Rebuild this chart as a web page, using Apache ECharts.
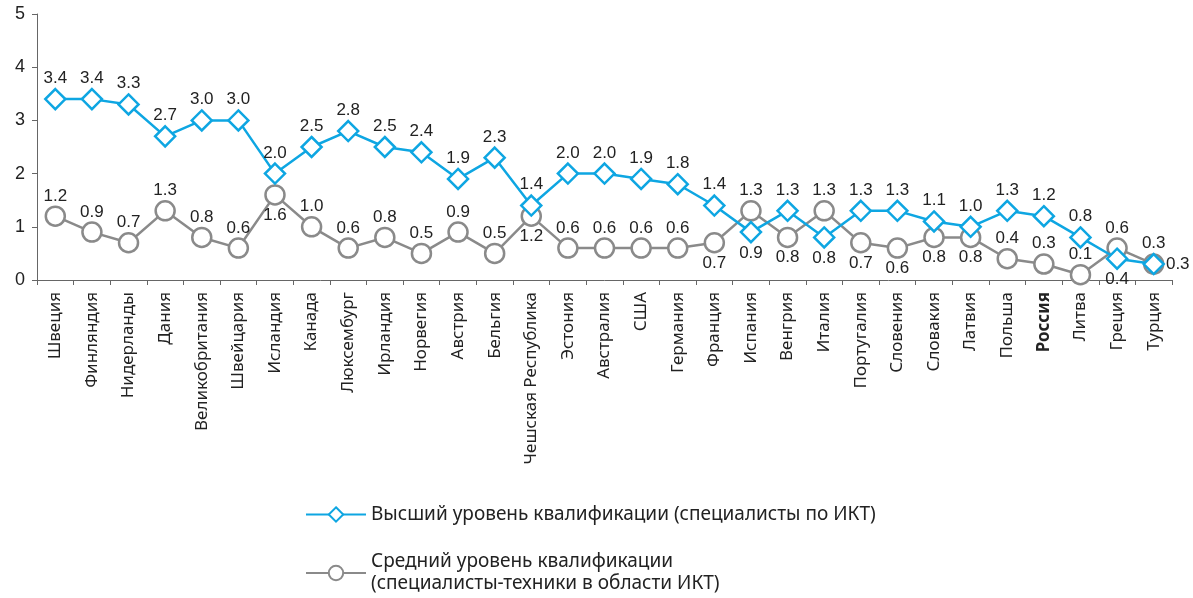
<!DOCTYPE html>
<html><head><meta charset="utf-8">
<script src="https://cdn.jsdelivr.net/npm/echarts@6/dist/echarts.min.js"></script>
<style>html,body{margin:0;padding:0;background:#fff}#c{width:1193px;height:598px}</style>
</head><body><div id="c"></div>
<script>
const categories = ['Швеция','Финляндия','Нидерланды','Дания','Великобритания','Швейцария','Исландия','Канада','Люксембург','Ирландия','Норвегия','Австрия','Бельгия','Чешская Республика','Эстония','Австралия','США','Германия','Франция','Испания','Венгрия','Италия','Португалия','Словения','Словакия','Латвия','Польша','Россия','Литва','Греция','Турция'];
const highValues = [3.4,3.4,3.3,2.7,3.0,3.0,2.0,2.5,2.8,2.5,2.4,1.9,2.3,1.4,2.0,2.0,1.9,1.8,1.4,0.9,1.3,0.8,1.3,1.3,1.1,1.0,1.3,1.2,0.8,0.4,0.3];
const midValues = [1.2,0.9,0.7,1.3,0.8,0.6,1.6,1.0,0.6,0.8,0.5,0.9,0.5,1.2,0.6,0.6,0.6,0.6,0.7,1.3,0.8,1.3,0.7,0.6,0.8,0.8,0.4,0.3,0.1,0.6,0.3];
const yTicks = [0,1,2,3,4,5];
const highName = 'Высший уровень квалификации (специалисты по ИКТ)';
const midName = 'Средний уровень квалификации\n(специалисты-техники в области ИКТ)';

// label placement (style only)
const highPos = categories.map((c,i)=> ({'Испания':'bottom','Италия':'bottom','Греция':'bottom','Турция':'right'})[c] || 'top');
const midBelow = ['Исландия','Чешская Республика','Франция','Венгрия','Португалия','Словения','Словакия','Латвия'];
const midPos = categories.map(c => midBelow.includes(c) ? 'bottom' : 'top');

const numFont = '"Liberation Sans Narrow", "Liberation Sans", Arial, sans-serif';
const BLUE = '#0ea6e2', GREY = '#8a8a8a';

const chart = echarts.init(document.getElementById('c'));
chart.setOption({
  animation: false,
  grid: {left: 37, right: 21, top: 14, bottom: 318, containLabel: false},
  xAxis: {
    type: 'category', data: categories, boundaryGap: true,
    axisLine: {lineStyle: {color: '#666', width: 1}},
    axisTick: {show: true, length: 5, lineStyle: {color: '#666'}},
    axisLabel: {
      rotate: 90, interval: 0, margin: 12, fontSize: 17, color: '#222',
      fontFamily: '"Noto Sans", "Open Sans", sans-serif',
      formatter: v => v === 'Россия' ? '{b|' + v + '}' : v,
      rich: {b: {fontWeight: 'bold', fontSize: 17, color: '#222', fontFamily: '"Noto Sans", sans-serif'}}
    }
  },
  yAxis: {
    type: 'value', min: 0, max: 5, interval: 1,
    splitLine: {show: false},
    axisLine: {show: true, lineStyle: {color: '#666', width: 1}},
    axisTick: {show: true, length: 5, lineStyle: {color: '#666'}},
    axisLabel: {fontSize: 18, color: '#222', margin: 12, fontFamily: numFont,
      formatter: v => yTicks.includes(v) ? String(v) : ''}
  },
  legend: [{
    data: [highName], orient: 'vertical', left: 300, top: 500,
    itemWidth: 60, itemHeight: 18, itemGap: 10,
    textStyle: {fontSize: 19, color: '#222', fontFamily: '"Liberation Sans Narrow", "Noto Sans", sans-serif'}
  }, {
    data: [midName], orient: 'vertical', left: 300, top: 535,
    itemWidth: 60, itemHeight: 18,
    textStyle: {fontSize: 19, color: '#222', lineHeight: 22, padding: [22,0,0,0], fontFamily: '"Liberation Sans Narrow", "Noto Sans", sans-serif'}
  }],
  series: [{
    name: midName, type: 'line',
    data: midValues.map((v,i)=>({value: v, label: {position: midPos[i]}})),
    symbol: 'circle', symbolSize: 19,
    lineStyle: {color: GREY, width: 2.5},
    itemStyle: {color: '#fff', borderColor: GREY, borderWidth: 2.5},
    label: {show: true, fontSize: 17, color: '#222', fontFamily: numFont, distance: 1, formatter: p => p.value.toFixed(1)},
    z: 2
  }, {
    name: highName, type: 'line',
    data: highValues.map((v,i)=>({value: v, label: {position: highPos[i]}})),
    symbol: 'diamond', symbolSize: 20,
    lineStyle: {color: BLUE, width: 2.5},
    itemStyle: {color: '#fff', borderColor: BLUE, borderWidth: 2.5},
    label: {show: true, fontSize: 17, color: '#222', fontFamily: numFont, distance: 1, formatter: p => p.value.toFixed(1)},
    z: 3
  }]
});
</script></body></html>
